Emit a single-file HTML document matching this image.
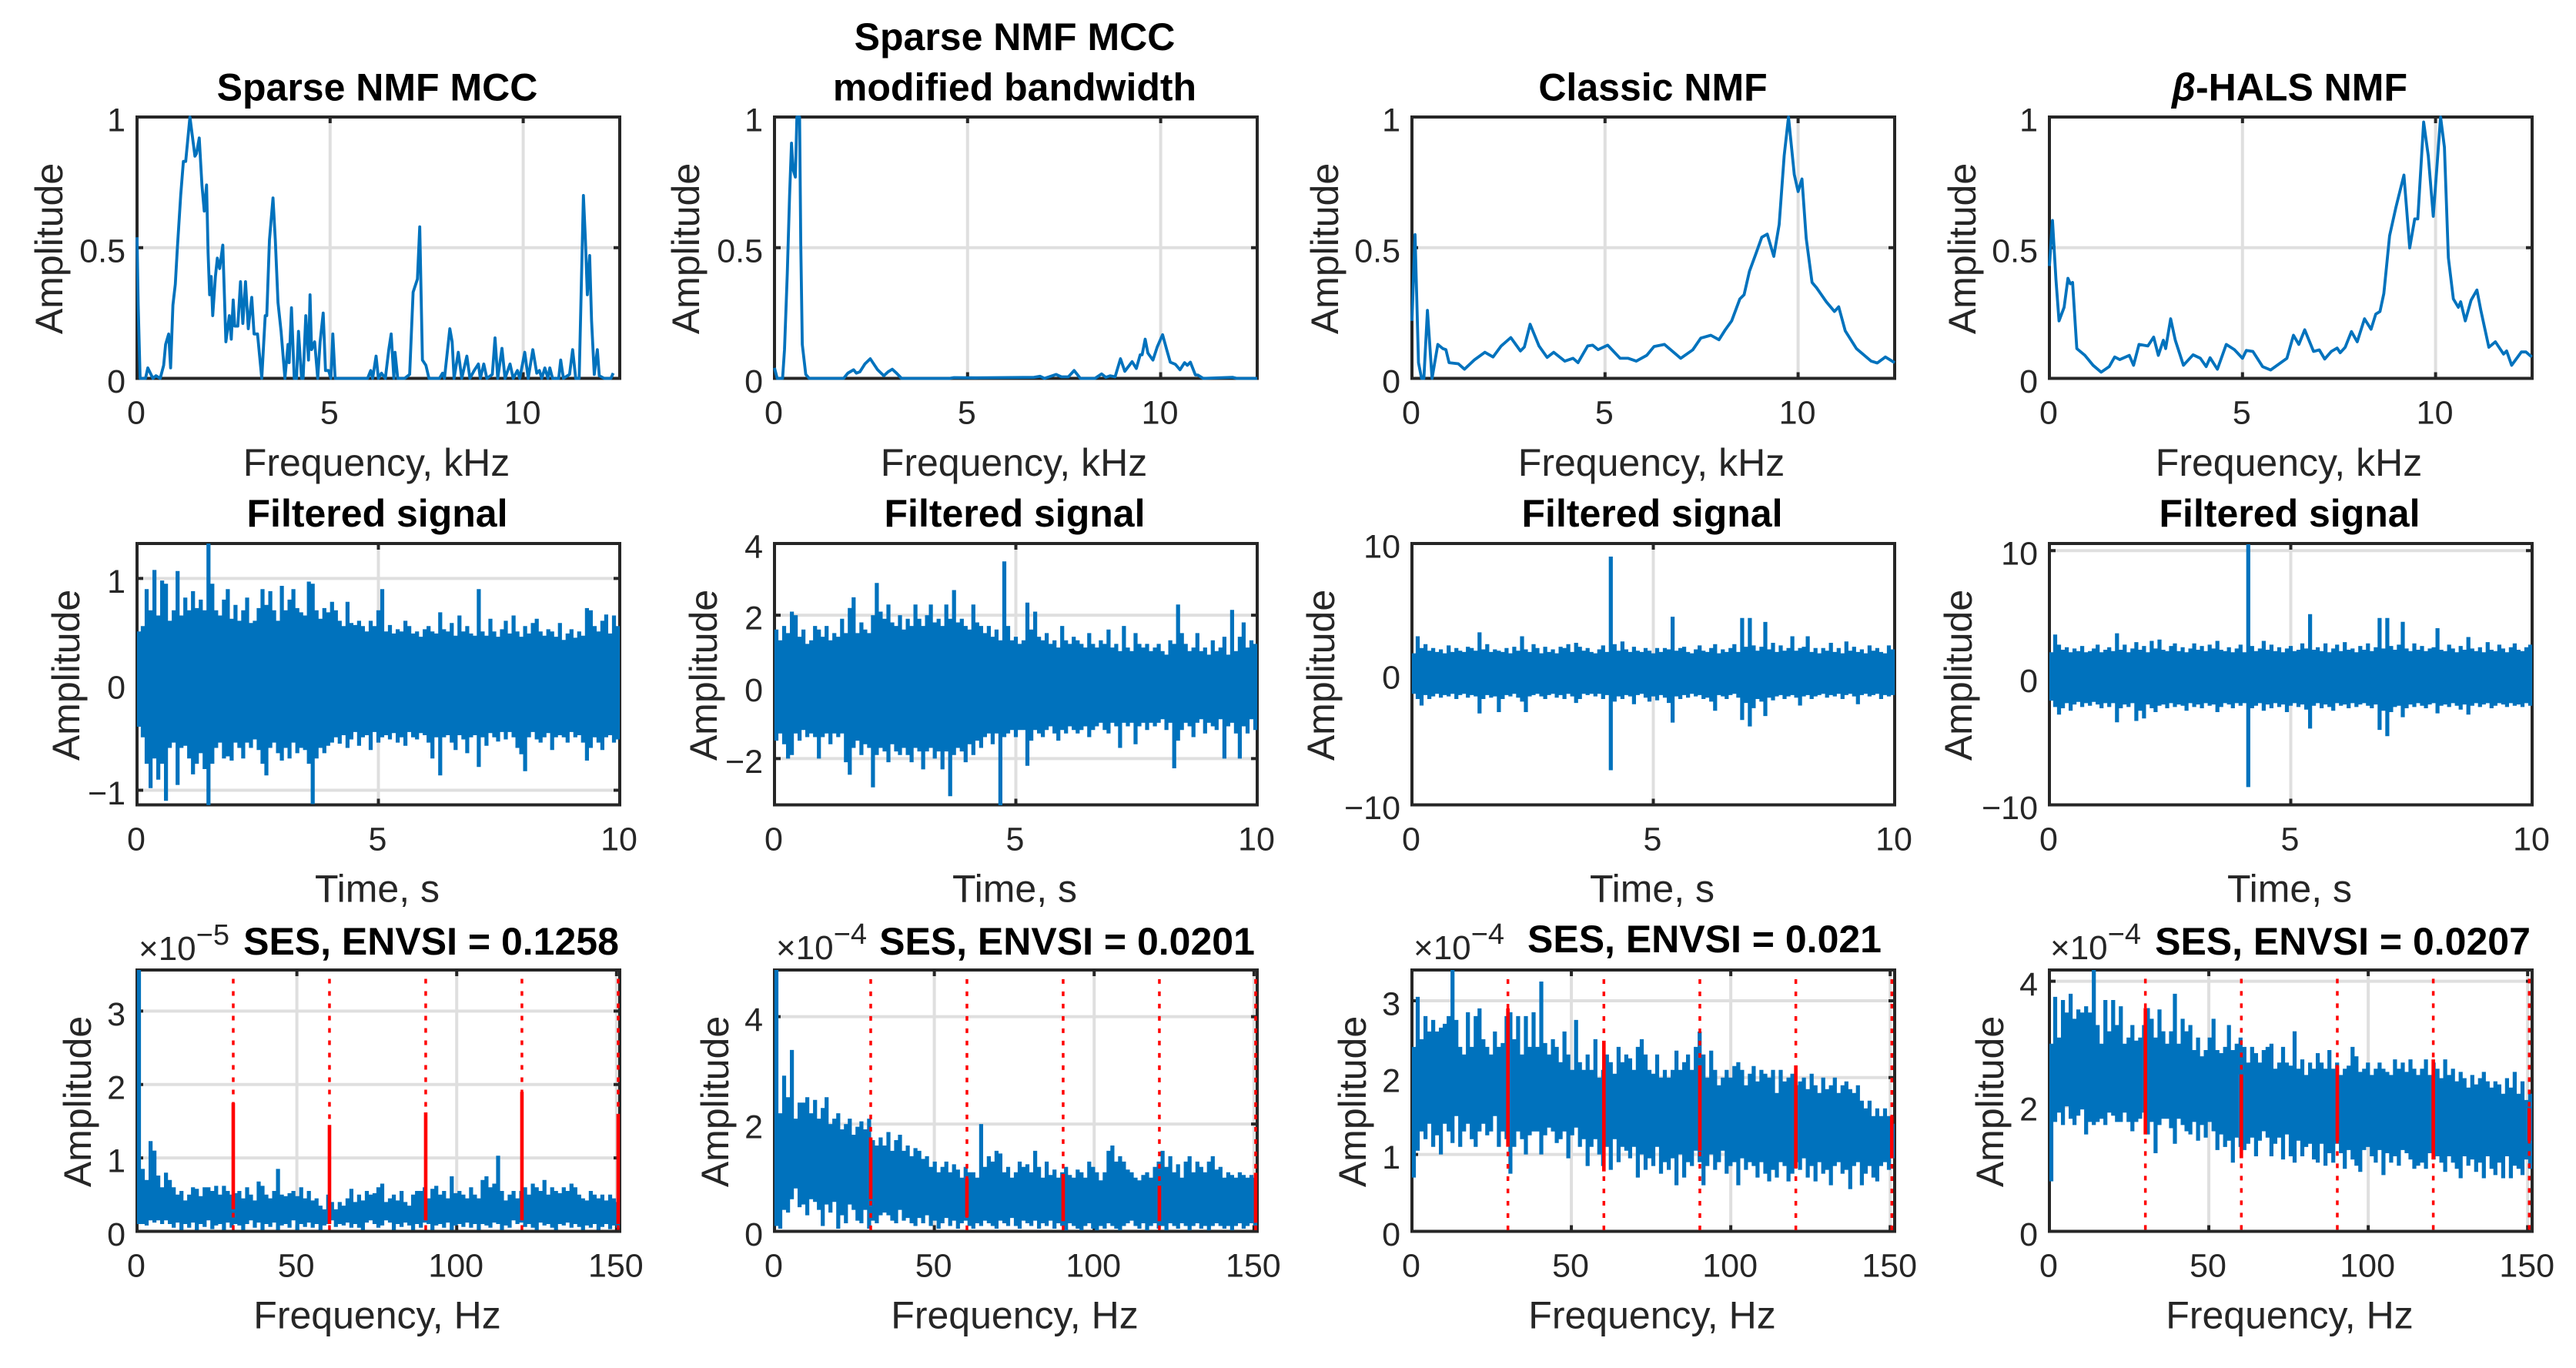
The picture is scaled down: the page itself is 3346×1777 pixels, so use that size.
<!DOCTYPE html>
<html lang="en">
<head>
<meta charset="utf-8">
<title>NMF filter comparison</title>
<style>
html,body{margin:0;padding:0;background:#fff;}
svg{display:block;font-family:"Liberation Sans",sans-serif;}
.title{font-size:50px;font-weight:bold;fill:#000;text-anchor:middle;}
.label{font-size:50px;fill:#262626;text-anchor:middle;}
.tick{font-size:43px;fill:#262626;}
.exp{font-size:44px;fill:#262626;}
.sup{font-size:38px;fill:#262626;}
</style>
</head>
<body>
<svg id="figure" xmlns="http://www.w3.org/2000/svg" width="3346" height="1777" viewBox="0 0 3346 1777">
<rect width="3346" height="1777" fill="#fff"/>
<g id="plots"></g>

<text class="title" x="490" y="130.5">Sparse NMF MCC</text>
<text class="title" x="1318" y="65">Sparse NMF MCC</text>
<text class="title" x="1318" y="130.5">modified bandwidth</text>
<text class="title" x="2147" y="130.5">Classic NMF</text>
<text class="title" x="2974" y="130.5"><tspan font-style="italic">β</tspan>-HALS NMF</text>

<text class="title" x="490" y="684">Filtered signal</text>
<text class="title" x="1318" y="684">Filtered signal</text>
<text class="title" x="2146" y="684">Filtered signal</text>
<text class="title" x="2974" y="684">Filtered signal</text>

<text class="title" x="560" y="1240">SES, ENVSI = 0.1258</text>
<text class="title" x="1386" y="1240">SES, ENVSI = 0.0201</text>
<text class="title" x="2214" y="1237">SES, ENVSI = 0.021</text>
<text class="title" x="3043" y="1240">SES, ENVSI = 0.0207</text>

<text class="label" x="489" y="618">Frequency, kHz</text>
<text class="label" x="1317" y="618">Frequency, kHz</text>
<text class="label" x="2145" y="618">Frequency, kHz</text>
<text class="label" x="2973" y="618">Frequency, kHz</text>
<text class="label" x="490" y="1171.6">Time, s</text>
<text class="label" x="1318" y="1171.6">Time, s</text>
<text class="label" x="2146" y="1171.6">Time, s</text>
<text class="label" x="2974" y="1171.6">Time, s</text>
<text class="label" x="490" y="1725.6">Frequency, Hz</text>
<text class="label" x="1318" y="1725.6">Frequency, Hz</text>
<text class="label" x="2146" y="1725.6">Frequency, Hz</text>
<text class="label" x="2974" y="1725.6">Frequency, Hz</text>

<text class="label" transform="translate(81 323) rotate(-90)">Amplitude</text>
<text class="label" transform="translate(908 323) rotate(-90)">Amplitude</text>
<text class="label" transform="translate(1738 323) rotate(-90)">Amplitude</text>
<text class="label" transform="translate(2566 323) rotate(-90)">Amplitude</text>
<text class="label" transform="translate(103 877) rotate(-90)">Amplitude</text>
<text class="label" transform="translate(931 877) rotate(-90)">Amplitude</text>
<text class="label" transform="translate(1733 877) rotate(-90)">Amplitude</text>
<text class="label" transform="translate(2561 877) rotate(-90)">Amplitude</text>
<text class="label" transform="translate(118 1431) rotate(-90)">Amplitude</text>
<text class="label" transform="translate(946 1431) rotate(-90)">Amplitude</text>
<text class="label" transform="translate(1774 1431) rotate(-90)">Amplitude</text>
<text class="label" transform="translate(2602 1431) rotate(-90)">Amplitude</text>

<text x="180" y="1247"><tspan class="exp">×10</tspan><tspan class="sup" dy="-20">−5</tspan></text>
<text x="1008" y="1246"><tspan class="exp">×10</tspan><tspan class="sup" dy="-20">−4</tspan></text>
<text x="1836" y="1246"><tspan class="exp">×10</tspan><tspan class="sup" dy="-20">−4</tspan></text>
<text x="2663" y="1246"><tspan class="exp">×10</tspan><tspan class="sup" dy="-20">−4</tspan></text>
</svg>

<script>
// ---------- Top row: normalised spectra (frequency in kHz, amplitude 0..1) ----------
const spectrum1Freq = [0,.03,.08,.22,.28,.41,.49,.6,.69,.74,.82,.87,.93,.99,1.04,1.13,1.2,1.26,1.37,1.5,1.54,1.61,1.68,1.74,1.8,1.84,1.88,1.92,1.96,2.03,2.08,2.14,2.22,2.3,2.39,2.44,2.49,2.53,2.61,2.68,2.74,2.81,2.88,2.97,3.03,3.12,3.23,3.32,3.36,3.43,3.52,3.58,3.65,3.73,3.83,3.91,3.94,4.0,4.07,4.13,4.18,4.26,4.3,4.37,4.44,4.48,4.52,4.6,4.68,4.74,4.82,4.88,4.96,5.02,5.07,5.13,5.97,6.05,6.1,6.19,6.25,6.33,6.43,6.52,6.58,6.65,6.68,6.75,6.93,7.06,7.15,7.26,7.32,7.39,7.48,7.56,7.83,7.91,7.96,8.1,8.16,8.21,8.32,8.41,8.54,8.62,8.73,8.84,8.89,8.98,9.06,9.2,9.27,9.34,9.45,9.53,9.66,9.74,9.85,9.91,10.04,10.13,10.25,10.35,10.42,10.48,10.56,10.64,10.69,10.76,10.92,10.97,11.04,11.2,11.28,11.36,11.45,11.56,11.61,11.66,11.72,11.77,11.84,11.92,11.97,12.1,12.27,12.33];
const spectrum1Amp = [.54,.28,0,0,.04,0,.01,0,.05,.13,.17,.04,.28,.36,.49,.7,.83,.83,1,.85,.86,.92,.74,.64,.74,.48,.32,.39,.24,.39,.46,.42,.51,.14,.24,.15,.3,.2,.2,.37,.21,.37,.19,.31,.17,.17,0,.24,.24,.53,.69,.53,.29,.18,0,.13,.06,.27,0,0,.18,0,0,.24,.07,.32,.11,.14,0,.14,.25,.03,.03,0,.17,0,0,.03,0,.085,0,.02,0,.11,.17,0,.1,0,0,.015,.33,.38,.58,.07,.05,0,0,.02,0,.19,.14,0,.1,0,.085,0,.03,.055,0,.055,0,.015,.155,0,.115,0,.055,0,.03,0,.1,0,.11,.02,.03,0,.04,0,.04,0,0,.07,0,.015,.11,0,0,.7,.53,.32,.47,.22,.015,.11,.01,0,0,.02];

const spectrum2Freq = [0,.07,.21,.26,.33,.39,.44,.48,.54,.58,.65,.68,.72,.81,.9,1.79,1.9,2.05,2.12,2.21,2.34,2.48,2.67,2.83,2.94,3.05,3.16,3.29,4.53,4.65,5.2,6.72,6.88,6.99,7.29,7.43,7.61,7.76,7.92,8.3,8.47,8.58,8.69,8.82,8.96,9.07,9.26,9.37,9.47,9.52,9.6,9.67,9.8,9.91,10.05,10.16,10.25,10.38,10.5,10.62,10.69,10.77,10.9,10.96,11.1,11.86,11.97,12.5];
const spectrum2Amp = [.04,0,0,.11,.4,.7,.9,.8,.77,1,1,.52,.13,.015,0,0,.02,.033,.02,.025,.055,.075,.033,.01,.025,.035,.02,0,0,.003,.002,.004,.008,0,.015,.006,.006,.03,0,0,.017,.004,.01,.006,.075,.027,.064,.038,.09,.09,.15,.097,.07,.12,.167,.108,.062,.054,.033,.06,.05,.062,.013,.013,0,.004,0,0];

const spectrum3Freq = [0,.08,.17,.25,.31,.4,.52,.67,.8,.88,.96,1.2,1.36,1.61,1.89,2.1,2.31,2.56,2.81,2.91,3.06,3.29,3.5,3.67,3.96,4.17,4.3,4.55,4.68,4.82,5.07,5.39,5.6,5.81,6.08,6.27,6.54,6.96,7.27,7.48,7.74,7.95,8.11,8.28,8.49,8.6,8.74,8.91,9.06,9.2,9.37,9.51,9.64,9.75,9.9,10,10.1,10.21,10.36,10.48,10.73,10.94,11.05,11.22,11.51,11.89,12.05,12.26,12.5];
const spectrum3Amp = [.22,.55,.06,0,0,.26,0,.13,.114,.11,.06,.056,.035,.07,.1,.082,.124,.156,.105,.12,.207,.124,.08,.1,.066,.077,.06,.124,.127,.11,.127,.077,.077,.066,.088,.122,.13,.077,.109,.154,.165,.148,.185,.22,.304,.32,.41,.478,.54,.552,.467,.589,.852,1,.78,.715,.763,.536,.367,.346,.293,.256,.274,.182,.114,.066,.059,.082,.06];

const spectrum4Freq = [0,.08,.17,.25,.38,.48,.54,.6,.71,.92,1.13,1.34,1.55,1.69,1.82,2.07,2.18,2.32,2.55,2.7,2.82,2.95,3.01,3.14,3.26,3.47,3.72,3.91,4.06,4.16,4.35,4.58,4.79,5,5.1,5.27,5.52,5.73,6.15,6.32,6.46,6.61,6.84,6.99,7.13,7.3,7.45,7.53,7.66,7.82,7.97,8.16,8.33,8.45,8.56,8.66,8.81,8.97,9.18,9.33,9.46,9.54,9.69,9.81,9.94,10.13,10.23,10.33,10.46,10.59,10.65,10.77,10.92,11.07,11.17,11.38,11.55,11.76,11.84,11.97,12.22,12.34,12.49];
const spectrum4Amp = [.43,.604,.378,.22,.272,.383,.362,.367,.114,.088,.05,.024,.045,.082,.072,.088,.05,.13,.124,.158,.088,.146,.114,.228,.146,.05,.09,.077,.045,.079,.035,.13,.11,.077,.107,.103,.045,.032,.077,.165,.13,.186,.103,.109,.074,.103,.116,.098,.119,.179,.14,.228,.188,.246,.256,.325,.546,.652,.778,.499,.61,.61,.981,.852,.62,1,.884,.462,.304,.272,.293,.22,.299,.338,.262,.119,.14,.093,.105,.05,.101,.101,.082];

// ---------- Middle row: filtered signal envelope per time bin ----------
const signal1Upper = [.5,.55,.9,.7,1.08,.65,.98,.95,.6,.7,1.07,.65,.82,.7,.88,.72,.8,.7,1.33,.95,.7,.65,.8,.9,.62,.75,.6,.7,.82,.58,.6,.72,.9,.75,.88,.7,.6,.93,.7,.8,.9,.72,.68,.65,.97,.95,.7,.62,.72,.68,.78,.7,.6,.55,.78,.58,.56,.6,.55,.5,.6,.55,.7,.9,.5,.56,.48,.52,.5,.6,.55,.48,.5,.45,.52,.55,.5,.48,.68,.52,.5,.58,.46,.65,.5,.55,.48,.46,.9,.5,.46,.62,.5,.45,.52,.6,.48,.65,.5,.45,.55,.48,.58,.62,.5,.46,.52,.5,.45,.58,.42,.48,.52,.44,.5,.46,.72,.7,.55,.5,.6,.66,.48,.65,.55];
const signal1Lower = [-.4,-.5,-.75,-.98,-.7,-.9,-.75,-1.1,-.6,-.55,-.95,-.6,-.58,-.7,-.85,-.75,-.65,-.8,-1.14,-.75,-.6,-.55,-.7,-.68,-.72,-.55,-.6,-.7,-.55,-.6,-.52,-.62,-.75,-.86,-.6,-.55,-.65,-.72,-.6,-.7,-.55,-.65,-.6,-.62,-.75,-1.13,-.7,-.6,-.65,-.58,-.55,-.5,-.56,-.48,-.6,-.52,-.45,-.58,-.5,-.48,-.62,-.45,-.55,-.5,-.48,-.52,-.46,-.55,-.5,-.58,-.45,-.5,-.52,-.46,-.48,-.55,-.7,-.5,-.86,-.5,-.48,-.55,-.62,-.48,-.52,-.65,-.5,-.48,-.78,-.5,-.58,-.46,-.5,-.54,-.45,-.52,-.45,-.5,-.6,-.66,-.82,-.5,-.45,-.52,-.55,-.5,-.46,-.62,-.5,-.48,-.5,-.55,-.45,-.5,-.48,-.55,-.72,-.6,-.5,-.55,-.62,-.5,-.48,-.55,-.52];

const signal2Upper = [1.6,1.3,1.7,1.5,2.1,2.0,1.4,1.6,1.2,1.3,1.7,1.6,1.4,1.7,1.3,1.5,1.4,1.9,1.5,2.2,2.5,1.5,1.8,1.6,1.5,2.0,2.9,2.1,1.9,2.3,1.8,1.7,2.0,1.6,1.9,1.7,2.3,1.9,1.7,2.0,2.3,1.8,1.9,1.7,2.3,1.9,2.7,1.8,1.9,1.7,1.6,2.3,1.8,1.7,1.5,1.7,1.4,1.6,1.3,3.5,1.7,1.3,1.4,1.2,1.3,2.35,1.6,2.1,1.4,1.3,1.5,1.2,1.3,1.1,1.7,1.3,1.2,1.4,1.3,1.2,1.1,1.5,1.2,1.1,1.3,1.2,1.6,1.1,1.2,1.0,1.7,1.1,1.0,1.5,1.2,1.1,1.2,1.0,1.1,1.2,1.0,.9,1.3,1.2,2.3,1.5,1.2,1.0,1.1,1.5,1.0,1.1,.9,1.3,1.0,1.1,1.4,.9,2.15,1.0,1.4,1.8,1.1,1.3,1.2];
const signal2Lower = [-1.5,-1.3,-1.6,-2,-1.9,-1.3,-1.5,-1.2,-1.4,-1.3,-1.4,-2,-1.4,-1.3,-1.6,-1.3,-1.4,-1.3,-2.1,-2.45,-1.7,-1.5,-1.9,-1.6,-1.7,-2.8,-1.9,-1.7,-1.8,-2.1,-1.6,-1.8,-1.9,-1.7,-1.9,-2.1,-1.7,-1.8,-2.3,-1.8,-1.7,-2.0,-1.8,-2.3,-1.8,-3.05,-1.9,-1.7,-1.8,-2.1,-1.6,-1.9,-1.5,-1.7,-1.4,-1.3,-1.6,-1.3,-3.3,-1.4,-1.3,-1.2,-1.4,-1.2,-1.2,-2.2,-1.5,-1.2,-1.3,-1.4,-1.2,-1.1,-1.3,-1.5,-1.2,-1.3,-1.1,-1.2,-1.3,-1.2,-1.1,-1.4,-1.2,-1.1,-1.0,-1.2,-1.3,-1.0,-1.1,-1.7,-1.0,-1.1,-1.0,-1.6,-1.1,-1.0,-1.2,-1.0,-1.1,-1.0,-.9,-1.2,-1.0,-2.27,-1.5,-1.2,-1.0,-1.1,-1.4,-1.0,-.9,-1.3,-1.0,-1.1,-1.2,-.9,-2,-1.1,-1.0,-1.3,-2,-1.1,-1.3,-.9,-1.2];

const signal3Upper = [1.6,2.9,2,2.3,1.8,2,1.7,1.9,1.6,2.2,1.7,2,1.8,1.7,2.1,2,1.8,3.2,1.9,2.3,1.7,1.9,1.8,1.7,2,1.6,2.1,1.8,2.9,1.9,1.7,2.3,2,1.6,2.1,1.7,1.9,1.6,2.1,2,2.3,1.7,2.4,2.1,1.8,2,1.7,1.6,1.9,2.2,1.7,9,2.3,1.8,2.5,1.9,1.7,2.1,1.8,1.7,2,1.8,1.6,2,1.7,2,1.9,4.4,1.8,2,2.1,1.7,1.6,1.9,2.2,1.8,1.7,2,2.3,1.6,1.9,1.7,2,2.3,1.7,4.3,2.1,4.3,2.2,1.8,2.1,4,1.9,2.4,1.7,2.2,1.8,2,2.9,1.8,2,2.1,2.9,1.7,2,1.6,2,1.8,2.4,1.7,2,1.6,2.5,1.8,2.1,1.7,1.9,1.6,2.2,1.8,2,1.7,1.6,2.2,1.9];
const signal3Lower = [-1.5,-1.9,-2.4,-1.6,-1.9,-1.7,-1.5,-1.8,-1.6,-1.7,-1.5,-1.9,-1.6,-1.5,-1.8,-1.6,-1.7,-3,-1.9,-1.6,-1.8,-1.7,-2.9,-1.9,-1.6,-1.7,-1.5,-1.8,-2.1,-2.9,-1.7,-1.6,-1.5,-1.7,-1.9,-1.6,-1.5,-1.8,-1.6,-1.9,-1.5,-1.7,-2.2,-1.9,-1.5,-1.6,-1.5,-1.7,-1.5,-1.9,-1.6,-7.35,-2.1,-1.7,-1.9,-1.6,-1.7,-2.3,-1.6,-1.5,-1.8,-2.1,-1.7,-2,-1.6,-1.8,-2.2,-3.7,-1.7,-1.9,-1.6,-1.8,-1.5,-1.7,-1.6,-1.9,-1.8,-2.1,-2.8,-1.6,-1.7,-1.9,-1.6,-1.5,-1.8,-3.5,-2.2,-4,-2.6,-1.9,-2.1,-3.2,-1.8,-2,-1.7,-1.6,-1.9,-1.7,-1.6,-1.8,-2.4,-1.7,-1.6,-1.9,-1.7,-1.6,-1.5,-1.8,-1.6,-1.7,-1.5,-1.9,-1.6,-1.5,-1.7,-2.3,-1.6,-1.5,-1.7,-1.6,-1.5,-1.9,-1.6,-1.7,-1.6];

const signal4Upper = [2,3.4,2.6,2.2,2.4,2,2.3,2.1,2.5,2,2.1,2.3,2.6,2,2.2,2.4,2.1,3.5,2.2,2.6,2,2.3,2.8,2.2,2.5,2,2.9,2.3,3.0,2.2,2.1,2.5,2.7,2.1,2.4,2,2.3,2.7,2.2,2.5,2.1,2.6,2.3,2.9,2.2,2.1,2.4,2,2.3,2.6,2,10.5,2.5,2.1,2.3,2.9,2.2,2.6,2.1,2.4,2,2.3,2.5,2.1,2.2,2.7,2.3,5,2.2,2.4,2.1,2.7,2,2.3,2.6,2.1,2.8,2.2,2.3,2,2.5,2.2,2.7,2.1,2.4,4.7,2.3,4.7,2.5,2.2,2.6,4.4,2.3,2.1,2.7,2.2,2.5,2.1,2.3,2.4,3.9,2.2,2.1,2.6,2.3,2,2.5,2.2,3.2,2.3,2.1,2.4,2,2.8,2.2,2.1,2.6,2.3,2,2.4,2.7,2.2,2.1,2.4,2.6];
const signal4Lower = [-1.8,-2.3,-2.9,-2.4,-2,-2.6,-2.1,-1.9,-2.3,-2,-2.2,-1.9,-2.1,-2.4,-2,-2.3,-2,-3.5,-2.4,-2.1,-2.3,-2,-3.4,-2.6,-3.2,-2.1,-2.4,-2.7,-2.2,-2.1,-2.4,-2,-2.3,-2.1,-2.2,-2.6,-2,-2.3,-2.1,-2.4,-2,-2.2,-2.1,-2.7,-2.3,-2,-2.1,-2.4,-2,-2.2,-2,-8.6,-2.4,-2.2,-2,-2.6,-2.1,-2.4,-2,-2.3,-2.1,-2.7,-2.2,-2,-2.3,-2.1,-2.5,-4,-2.2,-2,-2.4,-2.1,-2.3,-2.6,-2,-2.2,-2.1,-2.4,-2,-2.3,-2.1,-2,-2.2,-2.4,-2.1,-4.1,-2.6,-4.6,-2.7,-2.3,-2.2,-3.1,-2.4,-2.1,-2.3,-2,-2.2,-2.4,-2.1,-2,-2.8,-2.2,-2.1,-2.3,-2,-2.2,-2.5,-2.1,-2.9,-2.2,-2,-2.3,-2.1,-2,-2.4,-2.2,-2,-2.1,-2.3,-2,-2.2,-2.1,-2.3,-2,-2.2];

// ---------- Bottom row: squared envelope spectrum, envelope per frequency bin ----------
const ses1Upper = [3.56,.85,.7,1.23,1.1,.76,.6,.8,.7,.6,.5,.55,.42,.5,.6,.58,.48,.6,.6,.55,.62,.5,.62,.55,.5,.52,.55,.45,.6,.5,.42,.68,.62,.5,.45,.55,.85,.5,.48,.52,.55,.48,.6,.45,.55,.42,.45,.35,.3,.5,.4,.3,.4,.35,.45,.58,.4,.5,.42,.55,.5,.52,.6,.65,.4,.45,.5,.42,.55,.4,.35,.5,.55,.55,.6,.45,.58,.62,.5,.55,.45,.75,.52,.55,.5,.45,.6,.5,.45,.7,.75,.6,.65,1.03,.55,.42,.5,.55,.45,.55,.6,.5,.65,.6,.55,.7,.5,.6,.55,.52,.6,.55,.65,.6,.5,.45,.42,.55,.5,.45,.5,.42,.5,.45,.4];
const ses1Lower = [.1,.1,.08,.15,.12,.15,.1,.15,.1,.05,.12,.02,.1,.05,.12,.02,.1,.06,.15,.03,.08,.1,.02,.12,.05,.1,.08,.02,.1,.15,.05,.12,.02,.1,.06,.12,.02,.08,.1,.05,.15,.02,.1,.06,.12,.05,.1,.02,.08,.1,.15,.06,.1,.08,.12,.05,.1,.05,.02,.12,.15,.1,.05,.08,.15,.12,.02,.1,.06,.12,.08,.02,.1,.05,.12,.1,.02,.08,.1,.05,.12,.02,.08,.1,.06,.12,.05,.1,.02,.1,.08,.05,.12,.1,.02,.08,.05,.15,.1,.12,.06,.1,.05,.02,.12,.08,.1,.05,.02,.1,.08,.12,.05,.1,.06,.02,.08,.05,.1,.02,.06,.1,.03,.08,.05];

const ses2Upper = [4.87,2.2,2.9,2.5,3.38,2.1,2.4,2.4,2.5,2.2,2.45,2.1,2.3,2.5,2.0,2.1,2.2,1.9,2.0,2.1,1.8,1.95,2.05,1.9,2.1,1.7,1.6,1.75,1.6,1.85,1.5,1.7,1.8,1.5,1.6,1.4,1.55,1.5,1.35,1.4,1.2,1.3,1.1,1.2,1.3,1.1,1.25,1.15,1.0,1.2,1.1,1.1,1.0,2.0,1.2,1.4,1.3,1.5,1.45,1.1,1.2,1.0,1.1,1.3,1.2,1.25,1.1,1.5,1.2,1.0,1.3,1.05,1.15,1.0,1.1,1.2,1.05,1.0,1.15,1.1,1.0,1.3,1.2,1.1,.95,1.1,1.5,1.6,1.3,1.4,1.3,1.15,1.1,1.0,.95,1.05,1.1,1.0,1.2,1.3,1.5,1.2,1.4,1.1,1.25,1.0,1.3,1.4,1.1,1.3,1.2,1.1,1.3,1.4,1.15,1.2,1.0,1.1,1.05,1.0,1.1,1.05,1.0,1.05,1.0];
const ses2Lower = [.1,.05,.4,.35,.6,.8,.45,.5,.3,.6,.55,.4,.1,.5,.35,.55,.05,.3,.15,.5,.4,.2,.15,.4,.05,.2,.15,.3,.35,.3,.2,.15,.4,.2,.25,.15,.1,.25,.15,.3,.1,.2,.05,.15,.25,.1,.2,.05,.15,.2,.1,.05,.15,.1,.2,.15,.1,.05,.2,.15,.1,.25,.1,.05,.2,.15,.1,.2,.05,.15,.1,.2,.05,.15,.1,.02,.15,.1,.05,.02,.1,.15,.05,.02,.1,.05,.15,.1,.05,.02,.1,.15,.2,.1,.05,.15,.02,.1,.15,.05,.1,.02,.15,.1,.05,.15,.1,.02,.1,.15,.05,.1,.02,.1,.15,.1,.05,.1,.02,.1,.15,.05,.1,.15,.1];

const ses3Upper = [2.4,3.05,2.5,2.8,2.6,2.75,2.6,2.65,2.7,2.8,3.4,2.75,2.4,2.3,2.85,2.4,2.8,2.9,2.5,2.4,2.3,2.6,2.4,2.45,2.8,2.85,2.5,2.8,2.3,2.8,2.4,2.85,2.4,3.25,2.45,2.3,2.5,2.4,2.2,2.6,2.3,2.1,2.75,2.2,2.1,2.3,2.1,2.5,2.0,2.1,2.3,2.2,2.05,2.4,2.2,2.3,2.25,2.1,2.4,2.5,2.3,2.1,2.05,2.3,2.0,2.1,2.0,2.1,2.35,2.1,2.2,2.3,2.1,2.4,2.6,2.3,2.0,2.35,2.1,1.9,2.0,2.1,2.0,2.15,2.2,2.1,1.9,2.05,2.15,1.95,2.1,2.05,2.0,2.1,1.8,2.1,1.95,2.0,2.05,1.9,1.95,2.0,1.85,2.05,1.9,1.8,2.0,1.85,1.9,2.0,1.8,1.9,1.95,1.85,1.8,1.9,1.7,1.6,1.7,1.5,1.6,1.5,1.6,1.5,1.4];
const ses3Lower = [.7,1.05,1.3,1.2,1.4,1.1,1.25,1.0,1.4,1.3,1.15,1.5,1.1,1.3,1.4,1.2,1.1,1.3,1.4,1.25,1.3,1.5,1.1,1.3,1.2,.75,1.1,1.3,1.2,1.0,1.25,1.3,1.3,1,1.25,1.35,1.3,1.15,1.2,1.3,.95,1.25,1.35,1.1,1.2,.85,1.1,1.2,1.0,.85,1.1,.8,1.2,.9,1.1,1.05,.95,1.1,.7,1.0,.8,.95,.85,1.1,.75,.9,.8,.95,.6,1.0,.7,.9,.85,1.05,.9,.6,.85,1.0,.8,.9,1.05,.75,.85,.9,.6,.95,.8,.9,.85,.7,.9,.75,.65,.8,.7,.9,.85,.65,.75,.9,.8,.95,.7,.85,.65,.9,.75,.8,.6,.85,.9,.75,.8,.55,.85,.9,.6,.75,.85,.7,.65,.85,.9,.8,.95];

const ses4Upper = [3,3.75,3.1,3.7,3.5,3.8,3.4,3.55,3.5,3.6,3.5,4.18,3.3,3,3.7,3.2,3.7,3.3,3.6,3,3.1,3.3,3.05,3.1,3.3,3.57,3.4,3.1,3.55,3.2,3,3.2,3.8,3,3.4,3.2,3.3,2.9,3.1,2.8,2.9,3.1,3.4,2.9,2.85,2.95,3.3,2.9,3,3.1,2.95,2.7,2.95,2.85,2.7,2.9,2.95,3,2.6,2.7,2.95,2.7,2.65,3.2,2.6,2.75,2.5,2.7,2.6,2.85,2.7,2.6,2.9,2.6,2.7,2.5,2.6,2.65,2.95,2.8,2.55,2.6,2.7,2.5,2.6,2.7,2.6,2.55,2.5,2.75,2.6,2.7,2.55,2.75,2.6,2.5,2.6,2.75,2.5,2.7,2.6,2.45,2.75,2.5,2.6,2.4,2.55,2.45,2.3,2.5,2.35,2.45,2.55,2.4,2.3,2.4,2.35,2.2,2.45,2.3,2.55,2.2,2.4,2.1,2.2];
const ses4Lower = [.8,1.75,1.9,1.7,2,1.8,1.7,1.85,1.95,1.55,1.75,1.7,1.75,1.8,1.7,1.9,1.85,1.75,1.75,1.9,1.75,1.6,1.75,1.8,1.9,1.55,1.75,1.25,1.7,1.8,1.8,1.65,1.4,1.8,1.7,1.6,1.55,1.75,1.45,1.7,1.5,1.75,1.6,1.3,1.55,1.35,1.45,1.1,1.5,1.35,1.3,1.4,1.5,1.2,1.45,1.6,1.5,1.2,1.4,1.5,1.15,1.55,1.2,1.1,1.45,1.2,1.35,1.4,1.15,1.1,1.4,1.05,1.25,1.1,1.4,1.25,1.0,1.3,1.15,1.05,.95,1.3,1.35,1.2,1.1,1.3,.9,1.25,1.1,1.2,1.05,1.3,1.25,1.15,1.0,1.05,1.1,1.0,1.25,1.15,1.2,1.1,.95,1.2,1.1,1.0,.85,1.2,1.05,1.15,.95,1.1,.85,1.2,1.0,.9,1.1,.85,1.2,.85,1.05,1.0,.9,1.15,1];

// ---------- Fault harmonics in the SES panels ----------
const harmonicFreqs = [30.1,60.2,90.3,120.4,150.5];
const ses1PeakTop = [1.75,1.45,1.62,1.9,1.6];
const ses1PeakBottom = [.3,.1,.15,.15,.1];
const ses2PeakTop = [1.75,.98,1.07,.85,1.09];
const ses2PeakBottom = [.6,.27,.19,.19,.16];
const ses3PeakTop = [2.9,2.48,2.16,2.16,1.5];
const ses3PeakBottom = [1.1,.78,1.05,.82,.95];
const ses4PeakTop = [3.57,2.51,2.65,2.75,1.97];
const ses4PeakBottom = [1.55,1.17,1.45,1.15,1.45];
const harmonicGuideTop = [3.44,4.7,3.28,4.04];

// ---------- Axis limits and tick labels ----------
const spectrumXLim = [0,12.5];
const spectrumYLim = [0,1];
const spectrumXTicks = [0,5,10];
const spectrumYTicks = [0,0.5,1];
const signalXLim = [0,10];
const signalXTicks = [0,5,10];
const signal1YLim = [-1.138,1.33];
const signal2YLim = [-3.29,4];
const signal3YLim = [-10,10];
const signal4YLim = [-10,10.56];
const signal1YTicks = [-1,0,1];
const signal2YTicks = [-2,0,2,4];
const signal3YTicks = [-10,0,10];
const signal4YTicks = [-10,0,10];
const sesXTicks = [0,50,100,150];
const ses1XLim = [0,151];
const ses2XLim = [0,151];
const ses3XLim = [0,151.4];
const ses4XLim = [0,151.4];
const ses1YLim = [0,3.56];
const ses2YLim = [0,4.87];
const ses3YLim = [0,3.4];
const ses4YLim = [0,4.18];
const ses1YTicks = [0,1,2,3];
const ses2YTicks = [0,2,4];
const ses3YTicks = [0,1,2,3];
const ses4YTicks = [0,2,4];

const NS = 'http://www.w3.org/2000/svg';
const BLUE = '#0072BD';
const INK = '#262626';
const GRID = '#dfdfdf';
const plotWidth = 627;
const plotHeight = 339.5;
const plotsGroup = document.getElementById('plots');

function make(tag) { return document.createElementNS(NS, tag); }
function scaleX(lim, left, v) { return left + (v - lim[0]) / (lim[1] - lim[0]) * plotWidth; }
function scaleY(lim, top, v) { return top + plotHeight - (v - lim[0]) / (lim[1] - lim[0]) * plotHeight; }
function tickText(v) { return String(v).replace('-', '\u2212'); }

function drawAxes(group, left, top, xLim, yLim, xTicks, yTicks) {
  const bottom = top + plotHeight;
  const right = left + plotWidth;
  xTicks.forEach(function (v) {
    const x = scaleX(xLim, left, v);
    const grid = make('line');
    
    
    grid.setAttribute('x1', x); grid.setAttribute('x2', x);
    grid.setAttribute('y1', top); grid.setAttribute('y2', bottom);
    grid.setAttribute('stroke', GRID); grid.setAttribute('stroke-width', 4);
    group.appendChild(grid);
  });
  yTicks.forEach(function (v) {
    const y = scaleY(yLim, top, v);
    const grid = make('line');
    
    
    grid.setAttribute('x1', left); grid.setAttribute('x2', right);
    grid.setAttribute('y1', y); grid.setAttribute('y2', y);
    grid.setAttribute('stroke', GRID); grid.setAttribute('stroke-width', 4);
    group.appendChild(grid);
  });
  const tickMarks = make('path');
  
  
  let d = '';
  xTicks.forEach(function (v) {
    const x = scaleX(xLim, left, v);
    d += 'M' + x + ' ' + top + 'V' + (top + 8) + 'M' + x + ' ' + bottom + 'V' + (bottom - 8);
  });
  yTicks.forEach(function (v) {
    const y = scaleY(yLim, top, v);
    d += 'M' + left + ' ' + y + 'H' + (left + 8) + 'M' + right + ' ' + y + 'H' + (right - 8);
  });
  tickMarks.setAttribute('d', d);
  tickMarks.setAttribute('stroke', INK);
  tickMarks.setAttribute('stroke-width', 4);
  tickMarks.setAttribute('fill', 'none');
  group.appendChild(tickMarks);

  const box = make('rect');
  
  
  box.setAttribute('x', left); box.setAttribute('y', top);
  box.setAttribute('width', plotWidth); box.setAttribute('height', plotHeight);
  box.setAttribute('fill', 'none');
  box.setAttribute('stroke', INK);
  box.setAttribute('stroke-width', 4);
  group.appendChild(box);

  xTicks.forEach(function (v) {
    const label = make('text');
    
    
    label.setAttribute('class', 'tick');
    label.setAttribute('x', scaleX(xLim, left, v) - 1);
    label.setAttribute('y', bottom + 59);
    label.setAttribute('text-anchor', 'middle');
    label.textContent = tickText(v);
    group.appendChild(label);
  });
  yTicks.forEach(function (v) {
    const label = make('text');
    
    
    label.setAttribute('class', 'tick');
    label.setAttribute('x', left - 15);
    label.setAttribute('y', scaleY(yLim, top, v) + 18.5);
    label.setAttribute('text-anchor', 'end');
    label.textContent = tickText(v);
    group.appendChild(label);
  });
}

function makeClip(id, left, top) {
  const clip = make('clipPath');
  clip.setAttribute('id', id);
  const rect = make('rect');
  rect.setAttribute('x', left - 2);
  rect.setAttribute('y', top - 2);
  rect.setAttribute('width', plotWidth + 4);
  rect.setAttribute('height', plotHeight + 4);
  clip.appendChild(rect);
  plotsGroup.appendChild(clip);
}

function drawSpectrum(group, left, top, freq, amp, clipId) {
  const pts = freq.map(function (f, i) {
    return scaleX(spectrumXLim, left, f).toFixed(1) + ',' + scaleY(spectrumYLim, top, amp[i]).toFixed(1);
  });
  const line = make('polyline');
  
  
  line.setAttribute('points', pts.join(' '));
  line.setAttribute('fill', 'none');
  line.setAttribute('stroke', BLUE);
  line.setAttribute('stroke-width', 3.8);
  line.setAttribute('stroke-linejoin', 'round');
  line.setAttribute('clip-path', 'url(#' + clipId + ')');
  group.appendChild(line);
}

function drawEnvelope(group, left, top, xLim, yLim, upper, lower, clipId) {
  const binWidth = plotWidth / upper.length;
  const xSpan = xLim[1] - xLim[0];
  let d = '';
  upper.forEach(function (u, i) {
    const v = xLim[0] + (i + 0.5) / upper.length * xSpan;
    const x = scaleX(xLim, left, v).toFixed(1);
    d += 'M' + x + ' ' + scaleY(yLim, top, u).toFixed(1) + 'V' + scaleY(yLim, top, lower[i]).toFixed(1);
  });
  const trace = make('path');
  
  
  trace.setAttribute('d', d);
  trace.setAttribute('fill', 'none');
  trace.setAttribute('stroke', BLUE);
  trace.setAttribute('stroke-width', binWidth + 0.2);
  trace.setAttribute('clip-path', 'url(#' + clipId + ')');
  group.appendChild(trace);
}

function drawHarmonics(group, left, top, xLim, yLim, guideTop, peakTop, peakBottom) {
  harmonicFreqs.forEach(function (f, i) {
    const x = scaleX(xLim, left, f);
    const guide = make('line');
    
    
    guide.setAttribute('x1', x); guide.setAttribute('x2', x);
    guide.setAttribute('y1', scaleY(yLim, top, guideTop));
    guide.setAttribute('y2', top + plotHeight);
    guide.setAttribute('stroke', '#ff0000');
    guide.setAttribute('stroke-width', 3.5);
    guide.setAttribute('stroke-dasharray', '6 10');
    group.appendChild(guide);
    const peak = make('line');
    
    
    peak.setAttribute('x1', x); peak.setAttribute('x2', x);
    peak.setAttribute('y1', scaleY(yLim, top, peakTop[i]));
    peak.setAttribute('y2', scaleY(yLim, top, peakBottom[i]));
    peak.setAttribute('stroke', '#ff0000');
    peak.setAttribute('stroke-width', 4.6);
    group.appendChild(peak);
  });
}

function panelGroup() {
  const g = make('g');
  
  
  plotsGroup.appendChild(g);
  return g;
}

const spectrumFreqs = [spectrum1Freq, spectrum2Freq, spectrum3Freq, spectrum4Freq];
const spectrumAmps = [spectrum1Amp, spectrum2Amp, spectrum3Amp, spectrum4Amp];
const signalUppers = [signal1Upper, signal2Upper, signal3Upper, signal4Upper];
const signalLowers = [signal1Lower, signal2Lower, signal3Lower, signal4Lower];
const signalYLims = [signal1YLim, signal2YLim, signal3YLim, signal4YLim];
const signalYTickSets = [signal1YTicks, signal2YTicks, signal3YTicks, signal4YTicks];
const sesUppers = [ses1Upper, ses2Upper, ses3Upper, ses4Upper];
const sesLowers = [ses1Lower, ses2Lower, ses3Lower, ses4Lower];
const sesXLims = [ses1XLim, ses2XLim, ses3XLim, ses4XLim];
const sesYLims = [ses1YLim, ses2YLim, ses3YLim, ses4YLim];
const sesYTickSets = [ses1YTicks, ses2YTicks, ses3YTicks, ses4YTicks];
const sesPeakTops = [ses1PeakTop, ses2PeakTop, ses3PeakTop, ses4PeakTop];
const sesPeakBottoms = [ses1PeakBottom, ses2PeakBottom, ses3PeakBottom, ses4PeakBottom];

for (let c = 0; c < 4; c++) {
  const left = 178 + 828 * c;

  let top = 152;
  let g = panelGroup();
  let clipId = 'clip-spectrum-' + c;
  makeClip(clipId, left, top);
  drawAxes(g, left, top, spectrumXLim, spectrumYLim, spectrumXTicks, spectrumYTicks);
  drawSpectrum(g, left, top, spectrumFreqs[c], spectrumAmps[c], clipId);

  top = 706;
  g = panelGroup();
  clipId = 'clip-signal-' + c;
  makeClip(clipId, left, top);
  drawAxes(g, left, top, signalXLim, signalYLims[c], signalXTicks, signalYTickSets[c]);
  drawEnvelope(g, left, top, signalXLim, signalYLims[c], signalUppers[c], signalLowers[c], clipId);

  top = 1260;
  g = panelGroup();
  clipId = 'clip-ses-' + c;
  makeClip(clipId, left, top);
  drawAxes(g, left, top, sesXLims[c], sesYLims[c], sesXTicks, sesYTickSets[c]);
  drawEnvelope(g, left, top, sesXLims[c], sesYLims[c], sesUppers[c], sesLowers[c], clipId);
  drawHarmonics(g, left, top, sesXLims[c], sesYLims[c], harmonicGuideTop[c], sesPeakTops[c], sesPeakBottoms[c]);
}
</script>
</body>
</html>
